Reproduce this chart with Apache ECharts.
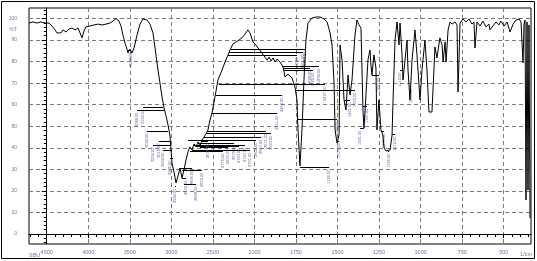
<!DOCTYPE html>
<html><head><meta charset="utf-8">
<script src="https://cdn.jsdelivr.net/npm/echarts@6/dist/echarts.min.js"></script>
<style>html,body{margin:0;padding:0;background:#fff}#c{width:537px;height:261px}</style>
</head><body><div id="c"></div>
<script>
// ---- axis ticks (split scale: 500 per division above 2000 1/cm, 250 below) ----
const xTickWavenumbers = [4500,4000,3500,3000,2500,2000,1750,1500,1250,1000,750,500];
const xTickLabels = ['4500','4000','3500','3000','2500','2000','1750','1500','1250','1000','750','500'];
const yTickValues = [0,10,20,30,40,50,60,70,80,90,100];
const yTickLabels = ['0','10','20','30','40','50','60','70','80','90','100'];
const yUnitValue = 95;
const yUnitLabel = '%T';
const xUnitLabel = '1/cm';
const cornerLabel = 'SBU';

// ---- spectrum (wavenumber 1/cm, %T) ----
const wavenumber = [
4713,4665,4617,4569,4520,4472,4436,4400,4376,4352,4328,4304,4268,4232,4196,4159,4123,4099,4075,4051,
4027,3979,3931,3883,3835,3786,3738,3702,3666,3630,3606,3582,3558,3534,3522,3498,3474,3449,3413,3377,
3341,3317,3293,3257,3221,3185,3161,3137,3112,3088,3064,3040,3016,3004,2992,2968,2944,2920,2896,2872,
2848,2824,2800,2776,2751,2727,2703,2679,2655,2631,2607,2583,2559,2535,2511,2475,2439,2390,2354,2318,
2294,2258,2222,2186,2150,2114,2078,2054,2017,1991,1973,1955,1937,1924,1912,1900,1888,1876,1864,1846,
1828,1816,1804,1798,1786,1774,1756,1744,1738,1726,1714,1702,1690,1678,1654,1630,1606,1582,1563,1545,
1533,1521,1515,1503,1491,1485,1473,1461,1449,1437,1425,1413,1395,1383,1371,1359,1347,1341,1329,1317,
1305,1299,1293,1281,1269,1263,1251,1239,1227,1220,1208,1196,1184,1172,1166,1154,1142,1130,1124,1112,
1106,1094,1082,1076,1064,1052,1034,1022,1004,992,974,962,950,932,920,914,902,884,871,865,
853,847,835,823,811,793,781,775,763,745,727,709,691,679,673,661,643,625,607,589,
583,565,547,529,517,498,480,462,444,426,408,396,384,378,372,366,360,354,348,342];
const transmittance = [
97.9,98.4,97.9,98.4,97.9,97.9,96.5,94.7,93.3,94.2,93.3,94.7,93.7,95.1,95.6,94.7,95.6,95.1,91.0,94.2,
96.1,96.5,97.0,97.4,97.0,97.4,97.9,98.8,100.0,98.8,96.5,92.3,88.6,85.8,84.0,85.8,84.0,86.3,92.3,97.4,
99.8,100.2,99.3,97.4,93.3,83.1,76.1,70.1,63.6,58.5,54.8,50.6,45.5,39.0,32.9,28.8,23.7,26.9,30.6,26.0,
29.7,34.3,38.1,40.4,39.0,41.8,40.4,42.7,40.8,43.6,45.0,46.4,48.3,52.9,56.1,63.6,71.5,76.1,79.8,83.1,
85.4,88.2,89.1,90.0,91.0,92.8,94.7,93.3,89.1,87.7,85.8,84.0,82.1,80.7,82.1,80.3,81.7,79.8,81.2,79.8,
77.5,72.9,72.4,74.2,73.3,72.4,68.2,62.2,48.3,31.6,48.3,71.5,90.0,97.9,100.2,100.7,100.7,99.8,98.4,93.3,
87.7,70.1,48.3,42.2,45.9,87.7,80.7,62.2,57.5,73.8,64.5,71.5,92.3,99.3,97.0,95.6,57.5,49.2,64.5,80.7,
85.4,78.4,73.8,83.1,77.0,48.3,62.2,48.3,45.9,39.9,38.5,38.1,39.0,45.9,62.2,90.0,98.4,87.7,97.9,83.1,
71.5,80.7,90.0,76.1,62.2,80.7,94.7,83.1,62.2,76.1,90.0,76.1,56.6,56.6,76.1,86.8,81.7,91.0,87.7,79.8,
89.1,79.8,94.7,98.4,97.4,98.4,97.0,65.9,97.9,99.8,98.4,99.8,97.4,98.4,86.3,98.4,96.5,98.8,96.1,97.4,
94.7,96.5,98.4,97.0,98.8,96.5,98.4,93.7,97.4,99.3,99.8,98.4,79.4,97.4,99.3,15.8,98.4,20.4,97.0,7.4];

// ---- peak annotations: peak wavenumber, leader height (%T), label column wavenumber ----
const peakWavenumber = [3522,3100,3088,3040,3004,3016,2992,2980,2944,2872,2896,2872,2848,2571,2583,2607,2800,2679,2727,2703,2655,2751,2776,2631,2511,2463,2427,2318,2306,2282,1828,1822,1834,1750,1744,1726,1503,1461,1347,1341,1293,1112,1064,1239,1196,1172];
const leaderT = [85.4,58.9,57.5,47.8,41.3,43.2,39.0,35.3,22.3,26.0,30.6,29.7,23.2,47.8,46.9,45.0,43.6,42.2,41.3,40.8,40.4,39.0,38.5,43.2,56.1,64.5,69.6,83.1,84.5,85.8,77.0,76.1,78.0,66.8,53.4,31.1,43.2,62.2,59.4,49.2,73.8,76.1,68.7,47.8,38.5,46.4];
const labelWavenumber = [3486,3341,3413,3293,3221,3149,3100,3016,2956,2824,2751,2631,2703,1931,1900,1961,1991,2246,2114,2186,2318,2054,2378,2559,1864,1834,1576,1744,1708,1696,1666,1648,1612,1395,1503,1551,1491,1425,1323,1365,1251,1124,1058,1220,1190,1154];

// piecewise-linear position along the split wavenumber scale (tick index units)
function wnToU(w) {
  const t = xTickWavenumbers;
  for (let i = 0; i < t.length - 1; i++) {
    if (w >= t[i + 1] || i === t.length - 2) return i + (t[i] - w) / (t[i] - t[i + 1]);
  }
}

const n = Math.min(wavenumber.length, transmittance.length);
const spectrum = [];
for (let i = 0; i < n; i++) spectrum.push([wnToU(wavenumber[i]), transmittance[i]]);

const annotations = [];
for (let i = 0; i < peakWavenumber.length; i++) {
  annotations.push([wnToU(peakWavenumber[i]), leaderT[i], wnToU(labelWavenumber[i]), peakWavenumber[i]]);
}

const majorU = xTickWavenumbers.map((w) => wnToU(w));
const minorU = [];
for (let k = -2; k <= 58; k++) minorU.push(k / 5);
const minorY = [];
for (let v = -4; v <= 104; v += 2) minorY.push(v);

const X_MIN = -0.426, X_MAX = 11.656, Y_MIN = -4.64, Y_MAX = 104.87;
const labelColor = '#6a76a6';

const chart = echarts.init(document.getElementById('c'), null, {renderer: 'canvas'});
chart.setOption({
  animation: false,
  backgroundColor: '#fff',
  grid: {left: 29, right: 6, top: 8, bottom: 17, show: true, borderColor: '#000', borderWidth: 1},
  xAxis: [
    {
      type: 'value', min: X_MIN, max: X_MAX, position: 'bottom',
      axisLine: {show: true, lineStyle: {color: '#000', width: 1}},
      axisTick: {show: true, customValues: majorU, length: 4, lineStyle: {color: '#000'}},
      axisLabel: {show: true, customValues: majorU, margin: 5, fontSize: 5.5, color: labelColor,
        fontFamily: 'Liberation Sans',
        formatter: (v) => xTickLabels[Math.round(v)]},
      splitLine: {show: true, lineStyle: {color: '#7a7a7a', width: 1, type: [4, 3]}}
    },
    {
      type: 'value', min: X_MIN, max: X_MAX, position: 'bottom',
      axisLine: {show: false},
      axisTick: {show: true, customValues: minorU, length: 3, lineStyle: {color: '#000'}},
      axisLabel: {show: false}, splitLine: {show: false}
    }
  ],
  yAxis: [
    {
      type: 'value', min: Y_MIN, max: Y_MAX, position: 'left',
      axisLine: {show: true, lineStyle: {color: '#000', width: 1}},
      axisTick: {show: true, customValues: yTickValues, length: 5, lineStyle: {color: '#000'}},
      axisLabel: {show: true, customValues: yTickValues.concat([yUnitValue]), margin: 12, fontSize: 5,
        color: labelColor, fontFamily: 'Liberation Sans',
        formatter: (v) => v === yUnitValue ? yUnitLabel : yTickLabels[yTickValues.indexOf(v)]},
      splitLine: {show: true, lineStyle: {color: '#7a7a7a', width: 1, type: [4, 3]}}
    },
    {
      type: 'value', min: Y_MIN, max: Y_MAX, position: 'left',
      axisLine: {show: false},
      axisTick: {show: true, customValues: minorY, length: 3, lineStyle: {color: '#000'}},
      axisLabel: {show: false}, splitLine: {show: false}
    }
  ],
  graphic: [
    {type: 'rect', shape: {x: 1.5, y: 1.5, width: 533, height: 257}, style: {fill: null, stroke: '#000', lineWidth: 1}, silent: true},
    {type: 'text', x: 29, y: 255, style: {text: cornerLabel, fontSize: 5.5, fill: labelColor, align: 'left', verticalAlign: 'middle', fontFamily: 'Liberation Sans'}},
    {type: 'text', x: 532, y: 254, style: {text: xUnitLabel, fontSize: 5.5, fill: labelColor, align: 'right', verticalAlign: 'middle', fontFamily: 'Liberation Sans'}}
  ],
  series: [
    {
      type: 'custom', xAxisIndex: 0, yAxisIndex: 0, silent: true, clip: false, z: 3,
      data: annotations,
      renderItem: function (params, api) {
        const a = api.coord([api.value(0), api.value(1)]);
        const b = api.coord([api.value(2), api.value(1)]);
        const yy = Math.round(a[1]) + 0.5;
        return {
          type: 'group',
          children: [
            {type: 'line', shape: {x1: a[0], y1: yy, x2: b[0], y2: yy}, style: {stroke: '#000', lineWidth: 1}},
            {type: 'text', x: b[0], y: yy + 2, rotation: Math.PI / 2,
              style: {text: api.value(3).toFixed(2), fontSize: 4, fill: '#5b64a8', align: 'right', verticalAlign: 'middle', fontFamily: 'Liberation Sans'}}
          ]
        };
      }
    },
    {
      type: 'line', xAxisIndex: 0, yAxisIndex: 0, data: spectrum, showSymbol: false, symbol: 'none',
      lineStyle: {color: '#000', width: 1}, z: 4, silent: true
    }
  ]
});
</script>
</body></html>
